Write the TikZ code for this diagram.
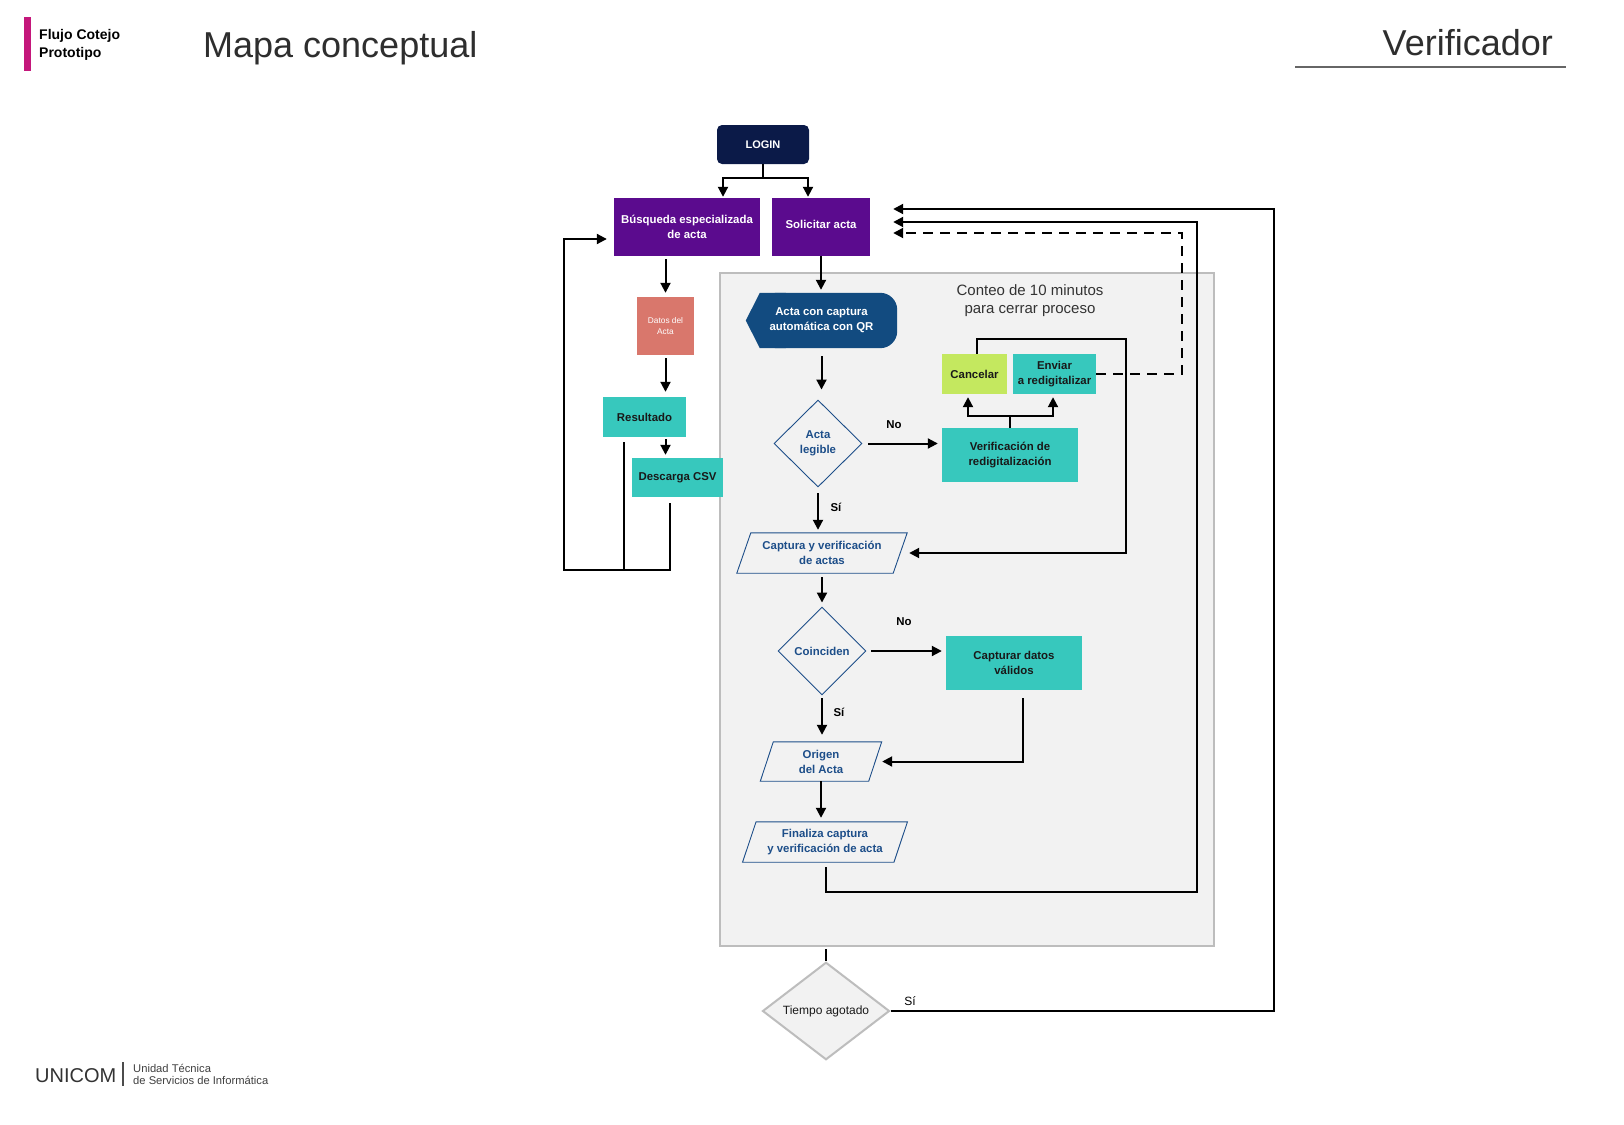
\documentclass[tikz,border=0pt]{standalone}
\usepackage{fontspec}
\setmainfont{Liberation Sans}
\usetikzlibrary{arrows.meta,shapes.geometric,calc}
\pgfdeclarelayer{bg}
\pgfdeclarelayer{mid}
\pgfsetlayers{bg,mid,main}
\definecolor{navy}{HTML}{0B1A48}
\definecolor{purp}{HTML}{5B0B8E}
\definecolor{salmon}{HTML}{D9776C}
\definecolor{tealc}{HTML}{37C8BD}
\definecolor{limec}{HTML}{C4E85F}
\definecolor{qrblue}{HTML}{124B80}
\definecolor{txtblue}{HTML}{1D4E89}
\definecolor{panel}{HTML}{F2F2F2}
\definecolor{panelline}{HTML}{BDBDBD}
\definecolor{magentac}{HTML}{C4177B}
\newcommand\bxf{\fontsize{11.4}{15}\selectfont\bfseries}
\newcommand\drawpara[2]{\draw[txtblue,line width=0.9pt] ([xshift=#2]#1.north west) -- ([xshift=#2]#1.north east) -- ([xshift=-#2]#1.south east) -- ([xshift=-#2]#1.south west) -- cycle;}
\begin{document}
\begin{tikzpicture}[x=1pt,y=-1pt,
  line/.style={line width=2pt,draw=black},
  arr/.style={line,-{Triangle[length=10pt,width=10pt]}},
  box/.style={rectangle,inner sep=2pt,align=center,font=\bxf},
  pbox/.style={box,fill=purp,text=white},
  tbox/.style={box,fill=tealc,text=black!90},
  dia/.style={diamond,aspect=1,inner sep=0pt,draw=txtblue,line width=0.9pt,text=txtblue,font=\bxf,align=center},
  para/.style={rectangle,inner sep=0pt,align=center,font=\bxf,text=txtblue},
  lbl/.style={inner sep=0pt,font=\fontsize{11.4}{13}\selectfont\bfseries}]
\useasboundingbox (0,0) rectangle (1624,1124);
\begin{pgfonlayer}{bg}
\fill[white] (0,0) rectangle (1624,1124);
\node[draw=panelline,fill=panel,line width=2pt,minimum width=494pt,minimum height=673pt,inner sep=0pt] (timer) at (967,609.5) {};
\end{pgfonlayer}

% header
\fill[magentac] (24,17) rectangle (31,71);
\node[anchor=north west,inner sep=0pt,align=left,font=\fontsize{14}{18}\selectfont\bfseries] (hdr) at (39,29) {Flujo Cotejo\\Prototipo};
\node[anchor=base west,inner sep=0pt,font=\fontsize{36}{40}\selectfont,text=black!82] (title) at (203,58) {Mapa conceptual};
\node[anchor=base east,inner sep=0pt,font=\fontsize{36}{40}\selectfont,text=black!82] (vtitle) at (1553,56) {Verificador};
\draw[black!60,line width=1.2pt] (1295,67) -- (1566,67);

% footer
\node[anchor=base west,inner sep=0pt,font=\fontsize{20}{22}\selectfont,text=black!80] (unicom) at (35,1082) {UNICOM};
\draw[black!70,line width=1.2pt] (123,1062) -- (123,1086);
\node[anchor=north west,inner sep=0pt,align=left,font=\fontsize{11.2}{12}\selectfont,text=black!75] (utsi) at (133,1064) {Unidad Técnica\\de Servicios de Informática};

% nodes
\node[box,fill=navy,text=white,rounded corners=5pt,minimum width=92pt,minimum height=39pt,font=\fontsize{11}{13}\selectfont\bfseries] (login) at (763,144.5) {LOGIN};
\node[pbox,minimum width=146pt,minimum height=58pt] (busq) at (687,227) {Búsqueda especializada\\de acta};
\node[pbox,minimum width=98pt,minimum height=58pt,text depth=6pt] (solic) at (821,227) {Solicitar acta};
\node[box,fill=salmon,text=white,minimum width=57pt,minimum height=58pt,font=\fontsize{8.3}{10.7}\selectfont] (datos) at (665.5,326) {Datos del\\Acta};
\node[tbox,minimum width=83pt,minimum height=40pt] (res) at (644.5,417) {Resultado};
\node[tbox,minimum width=91pt,minimum height=39pt] (desc) at (677.5,477.5) {Descarga CSV};

\node[inner sep=0pt,align=center,font=\fontsize{15}{18}\selectfont,text=black!80] (conteo) at (1030,301) {Conteo de 10 minutos\\para cerrar proceso};

\node[rectangle,minimum width=151pt,minimum height=55pt,inner sep=0pt,align=center,font=\bxf,text=white] (qr) at (821.5,320.5) {Acta con captura\\automática con QR};
\begin{pgfonlayer}{mid}
\fill[qrblue,rounded corners=17pt] ([xshift=14pt]qr.north west) rectangle (qr.south east);
\fill[qrblue] (qr.west) -- ([xshift=14pt]qr.north west) -- ([xshift=40pt]qr.north west) -- ([xshift=40pt]qr.south west) -- ([xshift=14pt]qr.south west) -- cycle;
\end{pgfonlayer}

\node[dia,minimum width=88pt,minimum height=87pt] (al) at (818,443.5) {Acta\\legible};
\node[tbox,minimum width=136pt,minimum height=54pt] (verif) at (1010,455) {Verificación de\\redigitalización};
\node[box,fill=limec,text=black!90,minimum width=65pt,minimum height=40pt] (cancel) at (974.5,374) {Cancelar};
\node[tbox,minimum width=83pt,minimum height=40pt] (enviar) at (1054.5,374) {Enviar\\a redigitalizar};

\node[para,minimum width=156pt,minimum height=40pt] (cap) at (822,553) {Captura y verificación\\de actas};
\drawpara{cap}{7pt}
\node[dia,minimum width=88pt,minimum height=88pt] (coin) at (822,651) {Coinciden};
\node[tbox,minimum width=136pt,minimum height=54pt] (capd) at (1014,663) {Capturar datos\\válidos};
\node[para,minimum width=108pt,minimum height=39pt] (origen) at (821,761.5) {Origen\\del Acta};
\drawpara{origen}{6.5pt}
\node[para,minimum width=151pt,minimum height=40pt] (fin) at (825,842) {Finaliza captura\\y verificación de acta};
\drawpara{fin}{6.75pt}

\node[diamond,draw=panelline,fill=panel,line width=2pt,inner sep=0pt,minimum width=127pt,minimum height=91pt,font=\fontsize{12}{14}\selectfont,text=black!90] (tiempo) at (826,1011) {Tiempo agotado};

% labels
\node[lbl] (no1) at (894,425) {No};
\node[lbl] (si1) at (836,507) {Sí};
\node[lbl] (no2) at (904,622) {No};
\node[lbl] (si2) at (839,712) {Sí};
\node[lbl,font=\fontsize{12}{14}\selectfont] (si3) at (910,1001) {Sí};

% coordinates
\coordinate (lsplit) at (763,178);
\coordinate (lb) at (564,570);
\coordinate (cl) at (1126,339);
\coordinate (dl) at (1182,233);
\coordinate (fl) at (1197,892);
\coordinate (tl) at (1274,1011);

% connectors
\draw[line] (login.south) -- (lsplit);
\draw[arr,shorten >=1pt] (lsplit) -| ([xshift=36pt]busq.north);
\draw[arr,shorten >=1pt] (lsplit) -| ([xshift=-13pt]solic.north);

\draw[arr,shorten <=3pt,shorten >=4pt] (busq.south -| datos.north) -- (datos.north);
\draw[arr,shorten <=3pt,shorten >=5pt] (datos.south) -- (datos.south |- res.north);
\draw[arr,shorten <=2pt,shorten >=3pt] (datos.south |- res.south) -- (datos.south |- desc.north);
\draw[line,shorten <=5pt] ([xshift=-20.5pt]res.south) |- (lb);
\draw[arr,shorten <=6pt,shorten >=7pt] ([xshift=-7.5pt]desc.south) |- (lb) |- ([yshift=-12pt]busq.west);

\draw[arr,shorten >=3pt] (solic.south) -- (solic.south |- qr.north);
\draw[arr,shorten <=8pt,shorten >=10pt] (qr.south) -- (qr.south |- al.north);
\draw[arr,shorten <=6pt,shorten >=4pt] (al.east) -- (al.east -| verif.west);
\draw[line] (verif.north) -- ++(0,-12) coordinate (vs);
\draw[arr,shorten >=3pt] (vs) -| ([xshift=-6.5pt]cancel.south);
\draw[arr,shorten >=3pt] (vs) -| ([xshift=-1.5pt]enviar.south);
\draw[arr,shorten >=9pt] ([xshift=2.5pt]cancel.north) |- (cl) |- (cap.east);
\draw[arr,dashed,dash pattern=on 10pt off 7pt] (enviar.east) -| (dl) -- ([xshift=23pt,yshift=-6pt]solic.east);

\draw[arr,shorten <=6pt,shorten >=3pt] (al.south) -- (al.south |- cap.north);
\draw[arr,shorten <=4pt,shorten >=4pt] (cap.south) -- (cap.south |- coin.north);
\draw[arr,shorten <=5pt,shorten >=4pt] (coin.east) -- (coin.east -| capd.west);
\draw[arr,shorten <=8pt,shorten >=7pt] ([xshift=9pt]capd.south) |- (origen.east);
\draw[arr,shorten <=3pt,shorten >=7pt] (coin.south) -- (coin.south |- origen.north);
\draw[arr,shorten >=4pt] (origen.south) -- (origen.south |- fin.north);
\draw[arr,shorten <=5pt] ([xshift=1pt]fin.south) |- (fl) |- ([xshift=23pt,yshift=5pt]solic.east);

\draw[line,shorten <=2pt] (timer.south -| tiempo.north) -- (tiempo.north);
\draw[arr] (tiempo.east) -- (tl) |- ([xshift=23pt,yshift=18pt]solic.east);
\end{tikzpicture}
\end{document}
